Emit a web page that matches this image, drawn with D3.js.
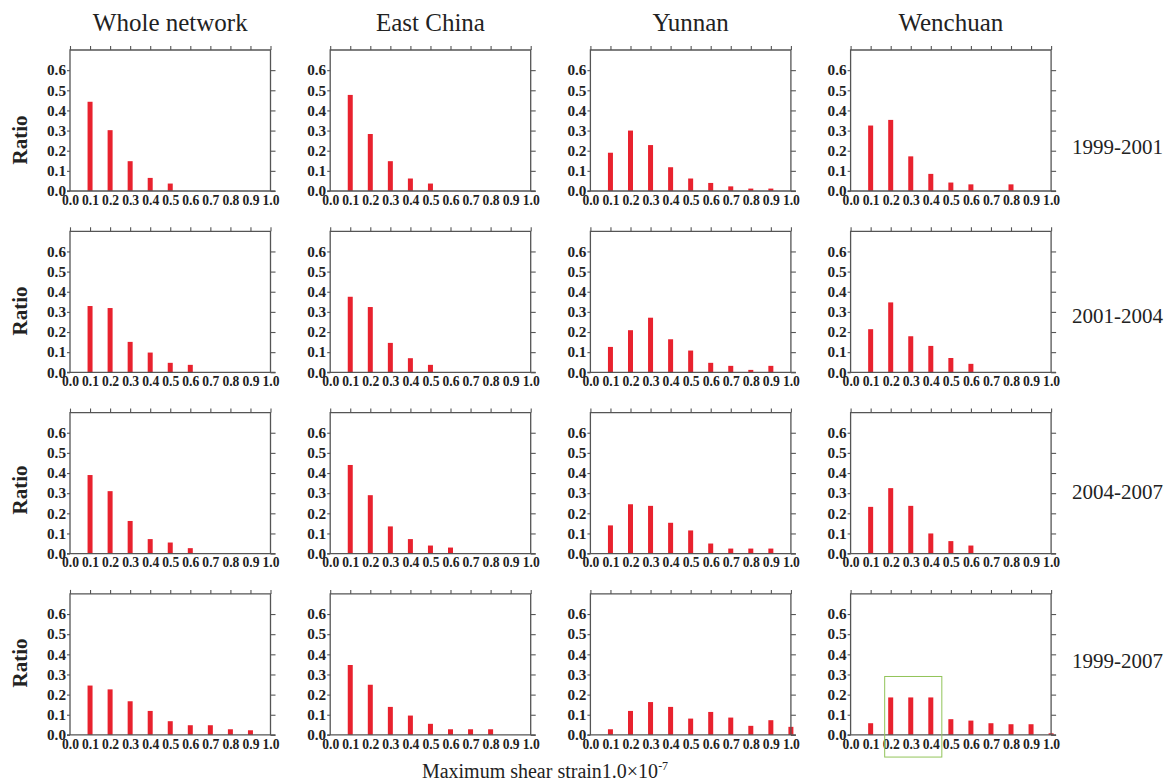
<!DOCTYPE html>
<html>
<head>
<meta charset="utf-8">
<script src="https://cdn.jsdelivr.net/npm/d3@7"></script>
<style>
  body { margin: 0; background: #fff; }
  svg { font-family: "Liberation Serif", "Times New Roman", serif; }
  .tick text { font-family: "Liberation Serif", serif; font-size: 15px; font-weight: bold; fill: #222; }
</style>
</head>
<body>
<script>
// strain bins (x) and the tick labels
let bins = [0.1, 0.2, 0.3, 0.4, 0.5, 0.6, 0.7, 0.8, 0.9, 1.0];
let xTicks = [0.0, 0.1, 0.2, 0.3, 0.4, 0.5, 0.6, 0.7, 0.8, 0.9, 1.0];
let yTicks = [0.0, 0.1, 0.2, 0.3, 0.4, 0.5, 0.6];

let regions = ["Whole network", "East China", "Yunnan", "Wenchuan"];
let periods = ["1999-2001", "2001-2004", "2004-2007", "1999-2007"];

// ratio per bin, one array per region and period
let whole_9901 = [0.443, 0.302, 0.148, 0.065, 0.037, 0, 0, 0, 0, 0];
let east_9901 = [0.477, 0.283, 0.148, 0.062, 0.037, 0, 0, 0, 0, 0];
let yunnan_9901 = [0.19, 0.30, 0.228, 0.118, 0.062, 0.04, 0.023, 0.012, 0.012, 0];
let wench_9901 = [0.325, 0.353, 0.172, 0.085, 0.042, 0.033, 0, 0.033, 0, 0];

let whole_0104 = [0.329, 0.319, 0.151, 0.098, 0.047, 0.037, 0, 0, 0, 0];
let east_0104 = [0.375, 0.324, 0.146, 0.07, 0.037, 0, 0, 0, 0, 0];
let yunnan_0104 = [0.126, 0.209, 0.271, 0.164, 0.108, 0.047, 0.032, 0.012, 0.032, 0];
let wench_0104 = [0.214, 0.347, 0.179, 0.131, 0.071, 0.042, 0, 0, 0, 0];

let whole_0407 = [0.39, 0.31, 0.162, 0.072, 0.055, 0.027, 0, 0, 0, 0];
let east_0407 = [0.44, 0.29, 0.135, 0.072, 0.04, 0.03, 0, 0, 0, 0];
let yunnan_0407 = [0.14, 0.245, 0.237, 0.153, 0.115, 0.05, 0.025, 0.025, 0.025, 0];
let wench_0407 = [0.232, 0.325, 0.237, 0.10, 0.062, 0.04, 0, 0, 0, 0];

let whole_9907 = [0.245, 0.226, 0.167, 0.119, 0.068, 0.048, 0.048, 0.028, 0.023, 0];
let east_9907 = [0.347, 0.249, 0.139, 0.096, 0.055, 0.028, 0.028, 0.028, 0, 0];
let yunnan_9907 = [0.028, 0.119, 0.163, 0.139, 0.081, 0.114, 0.086, 0.045, 0.073, 0.04];
let wench_9907 = [0.058, 0.186, 0.186, 0.186, 0.078, 0.071, 0.058, 0.053, 0.053, 0.008];

let grid = [
  [whole_9901, east_9901, yunnan_9901, wench_9901],
  [whole_0104, east_0104, yunnan_0104, wench_0104],
  [whole_0407, east_0407, yunnan_0407, wench_0407],
  [whole_9907, east_9907, yunnan_9907, wench_9907]
];

// highlighted block in the last Wenchuan panel (x from/to, y from/to in data units)
let highlight = { row: 3, col: 3, x0: 0.17, x1: 0.455, y0: -0.11, y1: 0.29 };

let width = 1169, height = 784;
let panelW = 200.5, panelH = 141;
let left0 = 70, colStep = 260.2;
let top0 = 50, rowStep = 181.3;
let ratioLabelY = [140, 311, 490, 663];
let periodLabelY = [154, 323, 499, 668];

let frameColor = "#555";
let barColor = "#e8222e";

let svg = d3.select("body").append("svg")
  .attr("width", width)
  .attr("height", height);

let x = d3.scaleLinear().domain([0, 1]).range([0, panelW]);
let y = d3.scaleLinear().domain([0, 0.7]).range([panelH, 0]);

grid.forEach((row, r) => {
  row.forEach((vals, c) => {
    let g = svg.append("g")
      .attr("transform", "translate(" + (left0 + c * colStep) + "," + (top0 + r * rowStep) + ")");

    // bars
    g.selectAll("rect.bar")
      .data(bins.map((b, i) => ({ b: b, v: vals[i] })).filter(d => d.v > 0))
      .enter().append("rect")
      .attr("class", "bar")
      .attr("x", d => x(d.b) - 2.5)
      .attr("width", 5)
      .attr("y", d => y(d.v))
      .attr("height", d => y(0) - y(d.v))
      .attr("fill", barColor);

    // frame: top, left, right lines
    g.append("path")
      .attr("d", "M0," + panelH + "V0H" + panelW + "V" + panelH)
      .attr("fill", "none")
      .attr("stroke", frameColor)
      .attr("stroke-width", 1.3);

    // top ticks (no labels)
    let topAxis = d3.axisTop(x).tickValues(xTicks).tickSize(4).tickSizeOuter(0).tickFormat("");
    let tg = g.append("g").call(topAxis);
    tg.select(".domain").remove();
    tg.selectAll("line").attr("stroke", frameColor).attr("stroke-width", 1.1);

    // left ticks with labels
    let leftAxis = d3.axisLeft(y).tickValues(yTicks).tickSize(3).tickPadding(1).tickFormat(d3.format(".1f"));
    let lg = g.append("g").call(leftAxis);
    lg.select(".domain").remove();
    lg.selectAll("line").attr("stroke", frameColor).attr("stroke-width", 1.1);
    lg.selectAll("text")
      .attr("textLength", 19)
      .attr("lengthAdjust", "spacingAndGlyphs");

    // right ticks (no labels)
    let rightAxis = d3.axisRight(y).tickValues(yTicks).tickSize(5).tickSizeOuter(0).tickFormat("");
    let rg = g.append("g").attr("transform", "translate(" + panelW + ",0)").call(rightAxis);
    rg.select(".domain").remove();
    rg.selectAll("line").attr("stroke", frameColor).attr("stroke-width", 1.1);

    // bottom axis: labels only, line spans tick to tick
    let bottomAxis = d3.axisBottom(x).tickValues(xTicks).tickSize(0).tickPadding(3).tickFormat(d3.format(".1f"));
    let bg = g.append("g").attr("transform", "translate(0," + panelH + ")").call(bottomAxis);
    bg.select(".domain").remove();
    bg.selectAll("text")
      .attr("textLength", 17)
      .attr("lengthAdjust", "spacingAndGlyphs");
    g.append("line")
      .attr("x1", -3).attr("x2", panelW + 5)
      .attr("y1", y(0)).attr("y2", y(0))
      .attr("stroke", frameColor)
      .attr("stroke-width", 1.3);

    if (r === highlight.row && c === highlight.col) {
      g.append("rect")
        .attr("x", x(highlight.x0))
        .attr("y", y(highlight.y1))
        .attr("width", x(highlight.x1) - x(highlight.x0))
        .attr("height", y(highlight.y0) - y(highlight.y1))
        .attr("fill", "none")
        .attr("stroke", "#92c45a")
        .attr("stroke-width", 1);
    }
  });

  // "Ratio" on the left of each row
  svg.append("text")
    .attr("transform", "translate(27," + ratioLabelY[r] + ") rotate(-90)")
    .attr("text-anchor", "middle")
    .attr("font-size", 21)
    .attr("font-weight", "bold")
    .attr("fill", "#222")
    .text("Ratio");

  // period on the right
  svg.append("text")
    .attr("x", 1072)
    .attr("y", periodLabelY[r])
    .attr("font-size", 21)
    .attr("fill", "#222")
    .text(periods[r]);
});

// column titles
regions.forEach((name, c) => {
  svg.append("text")
    .attr("x", left0 + c * colStep + panelW / 2)
    .attr("y", 31)
    .attr("text-anchor", "middle")
    .attr("font-size", 25)
    .attr("fill", "#222")
    .text(name);
});

// x-axis title
let xt = svg.append("text")
  .attr("x", 545)
  .attr("y", 778)
  .attr("text-anchor", "middle")
  .attr("font-size", 20)
  .attr("fill", "#222");
xt.append("tspan").text("Maximum shear strain1.0\u00d710");
xt.append("tspan").attr("dy", -8).attr("font-size", 12).text("-7");
</script>
</body>
</html>
